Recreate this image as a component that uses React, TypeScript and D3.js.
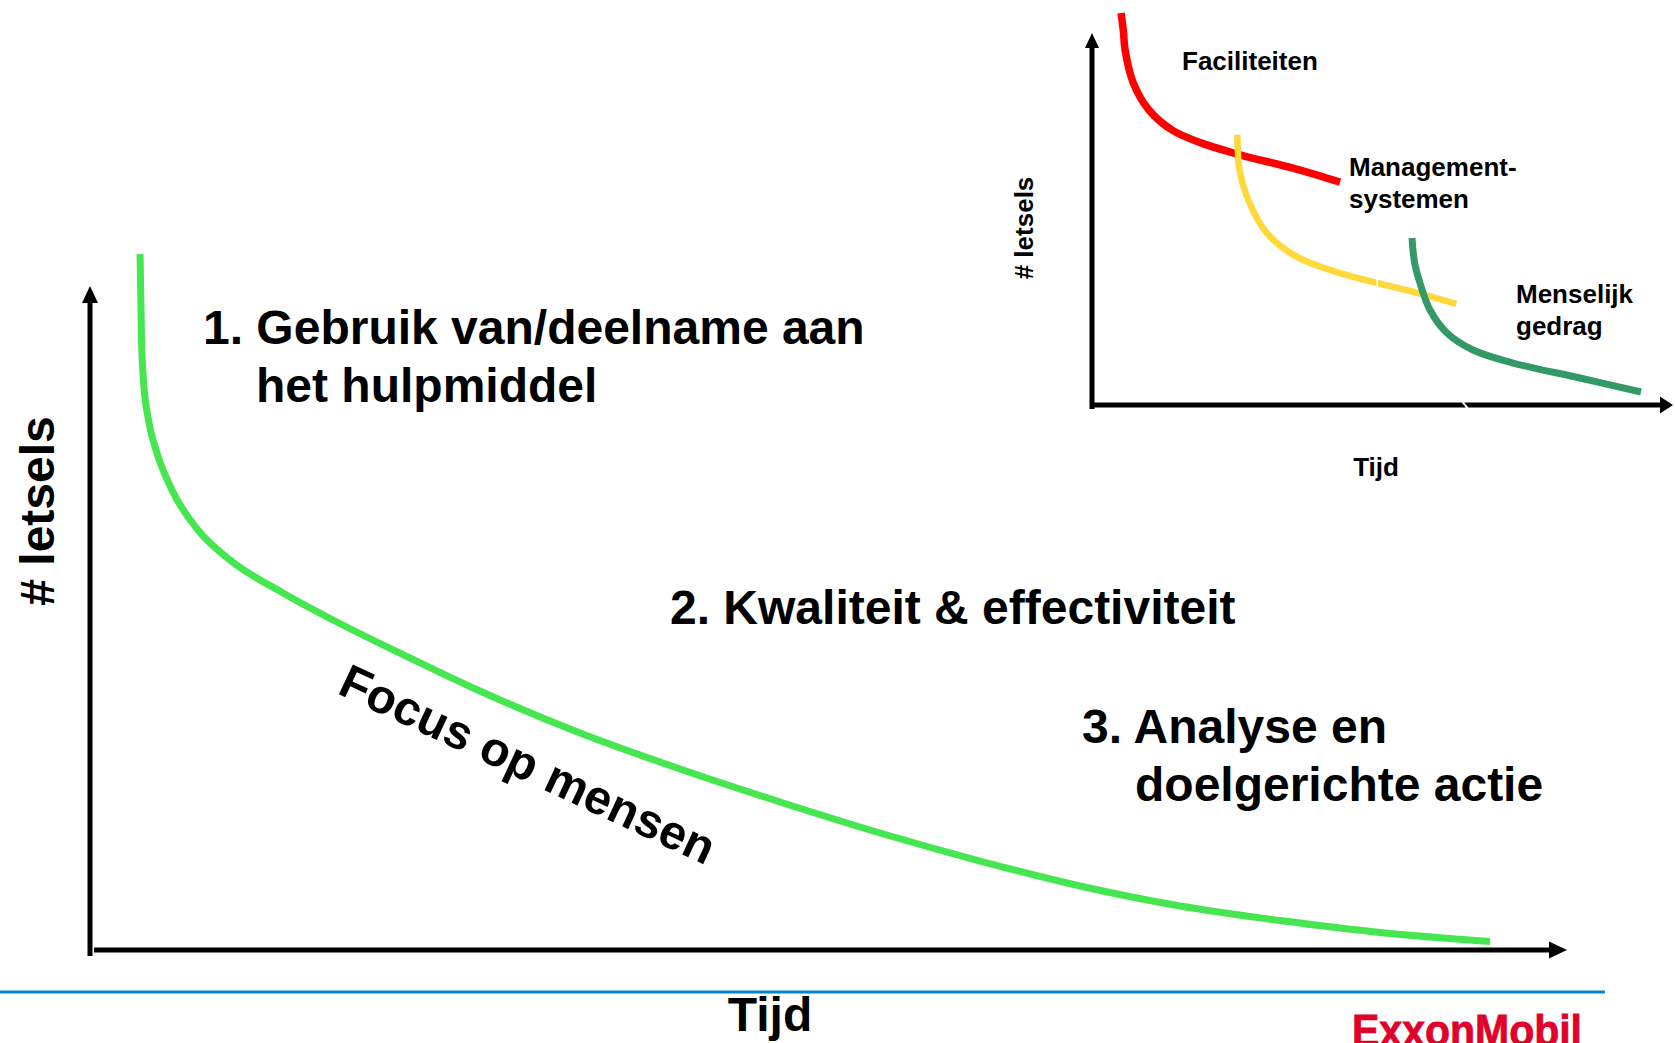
import React from "react";
import * as d3 from "d3";

// ---------- data (arbitrary units: time 0-100, injuries 0-100) ----------
const mainCurveT = [3.39, 3.49, 3.62, 3.96, 4.47, 5.55, 7.31, 9.48, 13.07, 16.45, 21.67, 26.4, 33.18, 39.95, 46.72, 53.49, 60.26, 67.03, 73.8, 80.57, 87.34, 94.79];
const mainCurveV = [104.8, 91.87, 85.84, 79.82, 75.3, 69.28, 63.25, 58.73, 53.77, 49.7, 43.98, 39.0, 32.68, 27.26, 22.29, 17.62, 13.4, 9.64, 6.63, 4.44, 2.64, 1.28];

const facT = [5.0, 5.4, 5.7, 7.1, 9.8, 13.8, 18.9, 25.6, 34.6, 42.7];
const facV = [105.4, 100.5, 95.4, 86.6, 79.3, 73.9, 70.4, 67.2, 63.7, 59.9];

const mgmtT = [25.0, 25.1, 25.3, 26.9, 30.1, 35.3, 42.0, 49.1, 56.1, 62.7];
const mgmtV = [72.6, 68.5, 64.0, 55.1, 46.2, 39.8, 35.8, 32.8, 30.1, 27.2];

const humT = [55.08, 55.5, 56.45, 58.18, 61.1, 65.58, 72.46, 83.99, 94.49];
const humV = [44.89, 38.5, 32.8, 25.54, 19.35, 14.78, 11.29, 7.26, 3.49];

const mainLines = [
  ["1. Gebruik van/deelname aan", "het hulpmiddel"],
  ["2. Kwaliteit & effectiviteit"],
  ["3. Analyse en", "doelgerichte actie"],
];
const curveLabel = "Focus op mensen";
const axisY = "# letsels";
const axisX = "Tijd";
const insetLabels = [["Faciliteiten"], ["Management-", "systemen"], ["Menselijk", "gedrag"]];
const brand = "ExxonMobil";

const FONT = "'Liberation Sans', Arial, Helvetica, sans-serif";

export default function App() {
  const W = 1675, H = 1043;

  // main chart scales
  const xM = d3.scaleLinear().domain([0, 100]).range([90, 1567]);
  const yM = d3.scaleLinear().domain([0, 100]).range([950, 286]);
  // inset scales
  const xI = d3.scaleLinear().domain([0, 100]).range([1092, 1673]);
  const yI = d3.scaleLinear().domain([0, 100]).range([405, 33]);

  const zip = (t: number[], v: number[]) => t.map((d, i) => [d, v[i]] as [number, number]);
  const lineM = d3.line<[number, number]>().x(d => xM(d[0])).y(d => yM(d[1])).curve(d3.curveMonotoneX);
  const lineI = d3.line<[number, number]>().x(d => xI(d[0])).y(d => yI(d[1])).curve(d3.curveCatmullRom.alpha(0.5));

  const bold = { fontFamily: FONT, fontWeight: 700 } as const;

  return (
    <svg width={W} height={H} viewBox={`0 0 ${W} ${H}`} style={{ position: "absolute", left: 0, top: 0, background: "#fff" }}>
      <rect x={0} y={0} width={W} height={H} fill="#fff" />

      {/* ---------- main chart ---------- */}
      <line x1={xM(0)} x2={xM(0)} y1={yM(0) + 6} y2={yM(100) + 14} stroke="#000" strokeWidth={5} />
      <path d={`M${xM(0)},${yM(100)} L${xM(0) - 8},${yM(100) + 17} L${xM(0) + 8},${yM(100) + 17} Z`} fill="#000" />
      <line x1={xM(0) + 4} x2={xM(100) - 14} y1={yM(0)} y2={yM(0)} stroke="#000" strokeWidth={5} />
      <path d={`M${xM(100)},${yM(0)} L${xM(100) - 18},${yM(0) - 8.5} L${xM(100) - 18},${yM(0) + 8.5} Z`} fill="#000" />

      <path d={lineM(zip(mainCurveT, mainCurveV)) || ""} fill="none" stroke="#46E650" strokeWidth={7} />

      <text {...bold} fontSize={48} fill="#000">
        <tspan x={203} y={344}>{mainLines[0][0]}</tspan>
        <tspan x={256} y={402}>{mainLines[0][1]}</tspan>
      </text>
      <text {...bold} fontSize={48} fill="#000" x={670} y={624}>{mainLines[1][0]}</text>
      <text {...bold} fontSize={48} fill="#000">
        <tspan x={1082} y={743}>{mainLines[2][0]}</tspan>
        <tspan x={1135} y={801}>{mainLines[2][1]}</tspan>
      </text>
      <text {...bold} fontSize={48} fill="#000" transform="translate(336,693) rotate(25)">{curveLabel}</text>

      <text {...bold} fontSize={48} fill="#000" textAnchor="middle" transform="translate(54,511) rotate(-90)">{axisY}</text>
      <text {...bold} fontSize={48} fill="#000" textAnchor="middle" x={770} y={1031}>{axisX}</text>

      {/* ---------- inset chart ---------- */}
      <line x1={xI(0)} x2={xI(0)} y1={yI(0) + 4} y2={yI(100) + 12} stroke="#000" strokeWidth={5} />
      <path d={`M${xI(0)},${yI(100)} L${xI(0) - 7},${yI(100) + 15} L${xI(0) + 7},${yI(100) + 15} Z`} fill="#000" />
      <line x1={xI(0) + 2} x2={xI(100) - 10} y1={yI(0)} y2={yI(0)} stroke="#000" strokeWidth={5} />
      <path d={`M${xI(100)},${yI(0)} L${xI(100) - 13},${yI(0) - 8.5} L${xI(100) - 13},${yI(0) + 8.5} Z`} fill="#000" />
      <line x1={xI(63.2)} y1={yI(2)} x2={xI(64.8)} y2={yI(-1.2)} stroke="#fff" strokeWidth={2} />

      <path d={lineI(zip(facT, facV)) || ""} fill="none" stroke="#FF0000" strokeWidth={7.5} />
      <path d={lineI(zip(mgmtT, mgmtV)) || ""} fill="none" stroke="#FFD83C" strokeWidth={6.5} />
      <line x1={xI(49.1)} y1={yI(30.6)} x2={xI(49.1)} y2={yI(35.2)} stroke="#fff" strokeWidth={1.6} />
      <path d={lineI(zip(humT, humV)) || ""} fill="none" stroke="#339966" strokeWidth={7} />

      <text {...bold} fontSize={26} fill="#000" x={1182} y={70}>{insetLabels[0][0]}</text>
      <text {...bold} fontSize={26} fill="#000">
        <tspan x={1349} y={176}>{insetLabels[1][0]}</tspan>
        <tspan x={1349} y={208}>{insetLabels[1][1]}</tspan>
      </text>
      <text {...bold} fontSize={26} fill="#000">
        <tspan x={1516} y={303}>{insetLabels[2][0]}</tspan>
        <tspan x={1516} y={335}>{insetLabels[2][1]}</tspan>
      </text>
      <text {...bold} fontSize={26} fill="#000" textAnchor="middle" transform="translate(1033,228) rotate(-90)">{axisY}</text>
      <text {...bold} fontSize={26} fill="#000" textAnchor="middle" x={1376} y={476}>{axisX}</text>

      {/* ---------- footer ---------- */}
      <line x1={0} x2={1605} y1={992} y2={992} stroke="#0084C8" strokeWidth={3} />
      <text {...bold} fontSize={44} fill="#E0002A" stroke="#E0002A" strokeWidth={0.8} x={1352} y={1046} textLength={230} lengthAdjust="spacingAndGlyphs">{brand}</text>
    </svg>
  );
}
